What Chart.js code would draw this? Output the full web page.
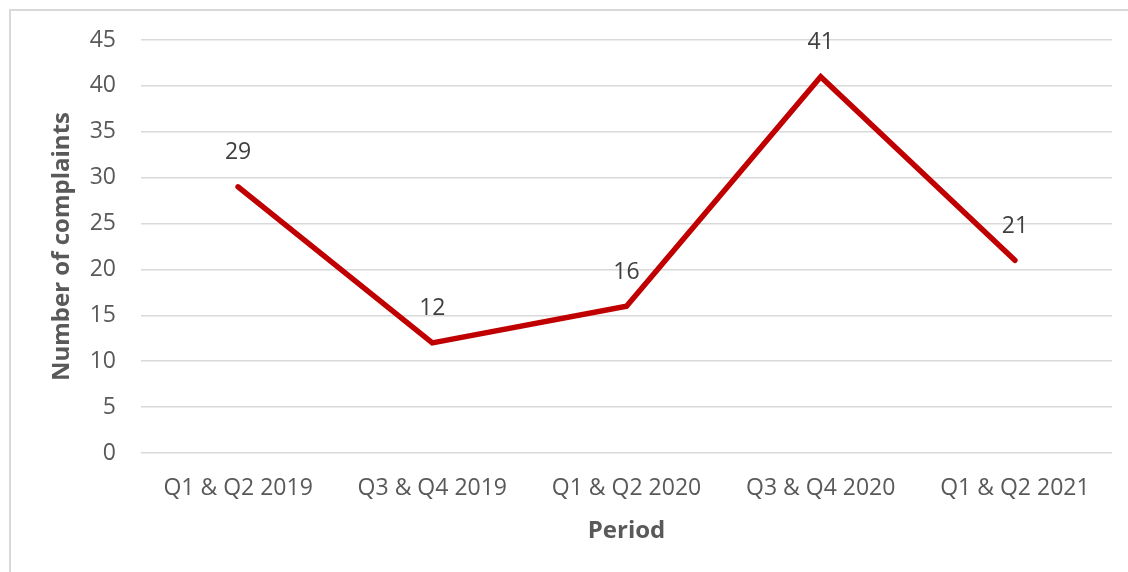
<!DOCTYPE html>
<html>
<head>
<meta charset="utf-8">
<script src="https://cdn.jsdelivr.net/npm/chart.js@4.4.0/dist/chart.umd.min.js"></script>
<style>
  body { margin: 0; background: #fff; }
  #frame { position: absolute; left: 9px; top: 9px; width: 1130px; height: 580px; border: 2px solid #d9d9d9; }
  #wrap { position: absolute; left: 0; top: 0; width: 1128px; height: 572px; }
</style>
</head>
<body>
<div id="frame"></div>
<div id="wrap"><canvas id="complaintsChart" width="1128" height="572"></canvas></div>
<script>
// periods and counts
const periods = ["Q1 & Q2 2019", "Q3 & Q4 2019", "Q1 & Q2 2020", "Q3 & Q4 2020", "Q1 & Q2 2021"];
const complaints = [29, 12, 16, 41, 21];
const yTicks = [0, 5, 10, 15, 20, 25, 30, 35, 40, 45];

const FONT = "'Open Sans', sans-serif";

// draws the number above each point
const pointLabels = {
    id: "pointLabels",
    afterDatasetsDraw(chart) {
        const ctx = chart.ctx;
        const meta = chart.getDatasetMeta(0);
        ctx.save();
        ctx.font = "23px " + FONT;
        ctx.fillStyle = "#404040";
        ctx.textAlign = "center";
        ctx.textBaseline = "middle";
        meta.data.forEach(function (pt, i) {
            ctx.fillText(String(complaints[i]), pt.x, pt.y - 34);
        });
        ctx.restore();
    }
};

const config = {
    type: "line",
    data: {
        labels: periods,
        datasets: [{
            label: "Complaints",
            data: complaints,
            borderColor: "#C00000",
            borderWidth: 5.5,
            borderJoinStyle: "miter",
            borderCapStyle: "round",
            pointRadius: 0,
            tension: 0,
            fill: false
        }]
    },
    options: {
        responsive: false,
        maintainAspectRatio: false,
        animation: false,
        layout: { padding: { left: 0, right: 16, top: 40, bottom: 0 } },
        plugins: {
            legend: { display: false },
            tooltip: { enabled: false }
        },
        scales: {
            x: {
                offset: true,
                grid: { display: false, drawTicks: false, offset: true },
                border: { display: false },
                ticks: { color: "#595959", font: { family: FONT, size: 23 }, padding: 22, maxRotation: 0 },
                title: { display: true, text: "Period", color: "#595959", font: { family: FONT, size: 24, weight: "bold" }, padding: { top: 26, bottom: 26 } },
                afterFit(scale) { scale.height = 119; }
            },
            y: {
                min: 0,
                max: 45,
                afterBuildTicks(scale) { scale.ticks = yTicks.map(v => ({ value: v })); },
                grid: { color: "#d9d9d9", lineWidth: 1.5, drawTicks: false },
                border: { display: false },
                ticks: { color: "#595959", font: { family: FONT, size: 23 }, padding: 25 },
                title: { display: true, text: "Number of complaints", color: "#595959", font: { family: FONT, size: 24, weight: "bold" }, padding: { top: 48, bottom: 48 } },
                afterFit(scale) { scale.width = 141; }
            }
        }
    },
    plugins: [pointLabels]
};

const complaintsChart = new Chart(document.getElementById("complaintsChart").getContext("2d"), config);
</script>
</body>
</html>
